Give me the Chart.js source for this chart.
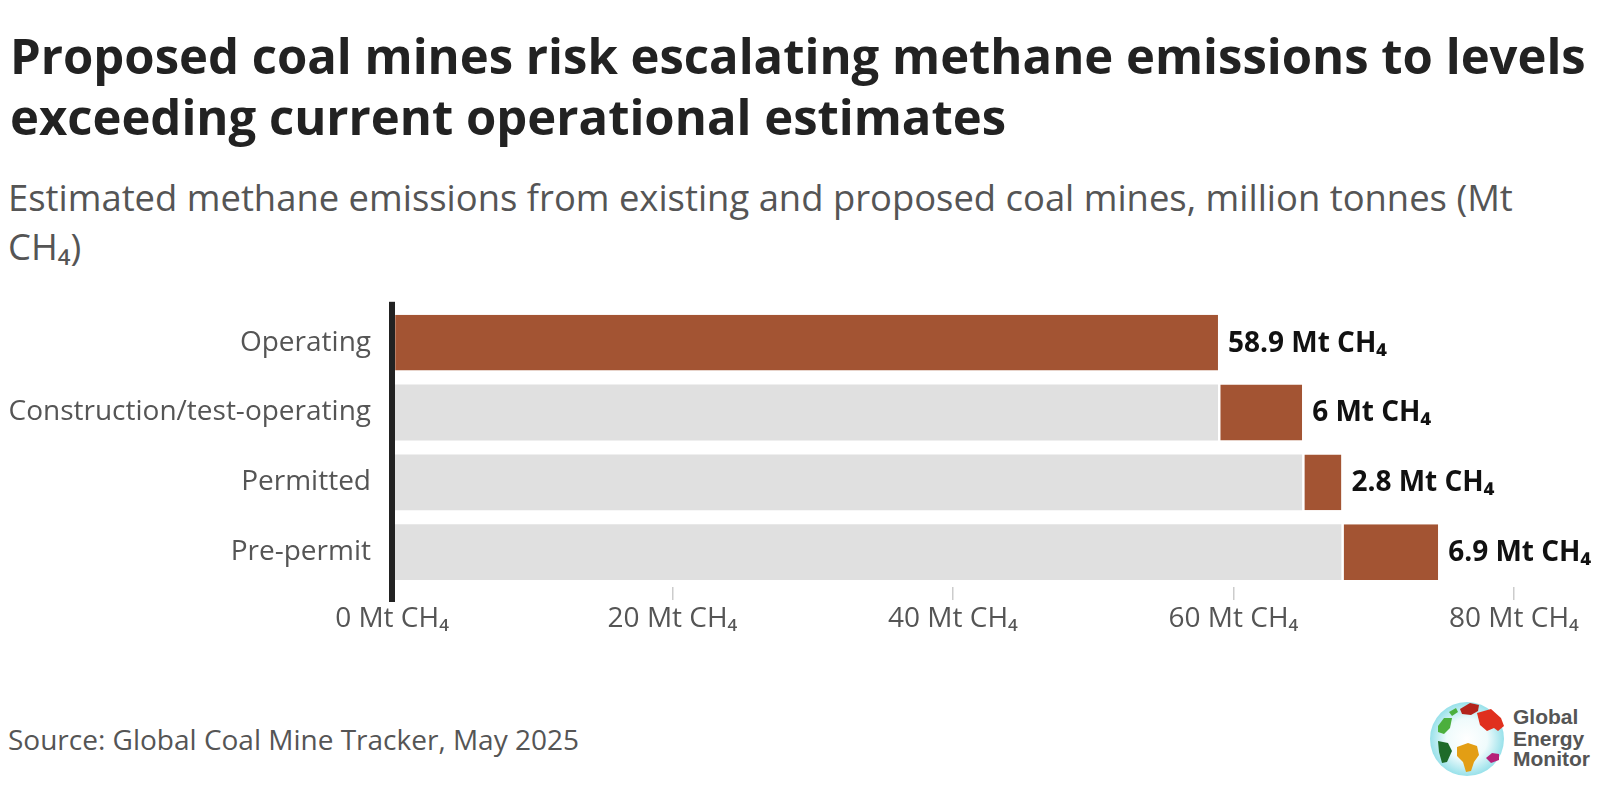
<!DOCTYPE html>
<html>
<head>
<meta charset="utf-8">
<script src="https://cdn.jsdelivr.net/npm/chart.js@4"></script>
<style>
  body { margin: 0; background: #fff; width: 1600px; height: 790px; position: relative; overflow: hidden; font-family: "Open Sans", sans-serif; }
  .title { position: absolute; left: 10px; top: 25px; width: 1590px; font-size: 49px; font-weight: 700; line-height: 61px; color: #222; }
  .subtitle { position: absolute; left: 8px; top: 173px; width: 1545px; font-size: 36.4px; line-height: 49px; color: #555; }
  .source { position: absolute; left: 8px; top: 725px; font-size: 28px; line-height: 28px; color: #555; }
  .chart-box { position: absolute; left: 0; top: 270px; width: 1600px; height: 370px; }
  .logo { position: absolute; left: 1420px; top: 690px; }
</style>
</head>
<body>
<div class="title">Proposed coal mines risk escalating methane emissions to levels exceeding current operational estimates</div>
<div class="subtitle">Estimated methane emissions from existing and proposed coal mines, million tonnes (Mt CH₄)</div>
<div class="chart-box"><canvas id="chart"></canvas></div>
<div class="source">Source: Global Coal Mine Tracker, May 2025</div>
<svg class="logo" width="180" height="100" viewBox="0 0 180 100">
  <defs>
    <radialGradient id="globe" cx="50%" cy="50%" r="50%">
      <stop offset="0%" stop-color="#ffffff"/>
      <stop offset="55%" stop-color="#effbfc"/>
      <stop offset="100%" stop-color="#98e1ea"/>
    </radialGradient>
  </defs>
  <circle cx="47" cy="49" r="37" fill="url(#globe)"/>
  <path d="M40 19 l10 -6 l9 2 l-1 6 l-7 4 l-9 -1 z" fill="#b3241c"/>
  <path d="M57 23 l14 -4 l10 9 l3 8 l-6 5 l-4 -3 l-7 3 l-7 -6 z" fill="#e0301e"/>
  <path d="M18 36 l6 -8 l8 0 l-2 10 l-6 6 l-6 -2 z" fill="#4caf3d"/>
  <path d="M29 22 l7 -4 l2 4 l-6 4 z" fill="#4caf3d"/>
  <path d="M18 51 l10 2 l4 8 l-5 11 l-5 1 l-3 -11 z" fill="#1e6b2a"/>
  <path d="M37 57 l11 -4 l9 3 l2 9 l-5 7 l-3 9 l-5 1 l-3 -10 l-6 -6 z" fill="#e39e14"/>
  <path d="M66 68 l6 -5 l7 1 l0 6 l-8 3 z" fill="#b52178"/>
  <text x="93" y="34" font-family="Liberation Sans, Arial, sans-serif" font-weight="700" font-size="21" fill="#555">Global</text>
  <text x="93" y="56" font-family="Liberation Sans, Arial, sans-serif" font-weight="700" font-size="21" fill="#555">Energy</text>
  <text x="93" y="76" font-family="Liberation Sans, Arial, sans-serif" font-weight="700" font-size="21" fill="#555">Monitor</text>
</svg>
<script>
const categories = ["Operating", "Construction/test-operating", "Permitted", "Pre-permit"];
const baseValues = [0, 58.9, 64.9, 67.7];
const addedValues = [58.9, 6, 2.8, 6.9];
const addedLabels = ["58.9 Mt CH₄", "6 Mt CH₄", "2.8 Mt CH₄", "6.9 Mt CH₄"];
const tickUnit = " Mt CH₄";

const brown = "#a35433";
const grey = "#e0e0e0";

// labels at the end of each bar
const barLabels = {
  id: "barLabels",
  afterDatasetsDraw(chart) {
    const ctx = chart.ctx;
    const meta = chart.getDatasetMeta(1);
    ctx.save();
    ctx.font = "bold 28px 'Open Sans'";
    ctx.fillStyle = "#111";
    ctx.textBaseline = "middle";
    meta.data.forEach((bar, i) => {
      ctx.fillText(addedLabels[i], bar.x + 10, bar.y + 1);
    });
    ctx.restore();
  },
};

// dark axis line, a bit longer than the plot area
const axisLine = {
  id: "axisLine",
  afterDraw(chart) {
    const a = chart.chartArea;
    const ctx = chart.ctx;
    ctx.save();
    ctx.fillStyle = "#222";
    ctx.fillRect(a.left - 3, a.top - 6, 6, a.bottom - a.top + 21);
    ctx.restore();
  },
};

new Chart(document.getElementById("chart"), {
  type: "bar",
  data: {
    labels: categories,
    datasets: [
      {
        data: baseValues,
        backgroundColor: grey,
        borderWidth: 0,
      },
      {
        data: addedValues,
        backgroundColor: brown,
        borderColor: "#ffffff",
        borderWidth: { left: 2.5, right: 0, top: 0, bottom: 0 },
        borderSkipped: false,
      },
    ],
  },
  options: {
    indexAxis: "y",
    responsive: true,
    maintainAspectRatio: false,
    animation: false,
    layout: { padding: { top: 17, right: 16, left: 0, bottom: 0 } },
    barPercentage: 0.8,
    categoryPercentage: 1,
    plugins: {
      legend: { display: false },
      tooltip: { enabled: false },
    },
    scales: {
      x: {
        stacked: true,
        min: 0,
        max: 85,
        border: { display: false },
        grid: {
          drawOnChartArea: false,
          drawTicks: true,
          tickLength: 13,
          lineWidth: 1.5,
          color: (c) => (c.tick && c.tick.value === 0 ? "rgba(0,0,0,0)" : "#cccccc"),
        },
        ticks: {
          stepSize: 20,
          includeBounds: false,
          padding: 2,
          color: "#555",
          font: { family: "'Open Sans'", size: 28 },
          callback: (v) => v + tickUnit,
        },
        afterFit: (scale) => { scale.height = 53; },
      },
      y: {
        stacked: true,
        border: { display: false },
        grid: { display: false, drawTicks: false },
        ticks: {
          padding: 21,
          color: "#555",
          font: { family: "'Open Sans'", size: 28 },
        },
        afterFit: (scale) => { scale.width = 392; },
      },
    },
  },
  plugins: [barLabels, axisLine],
});
</script>
</body>
</html>
